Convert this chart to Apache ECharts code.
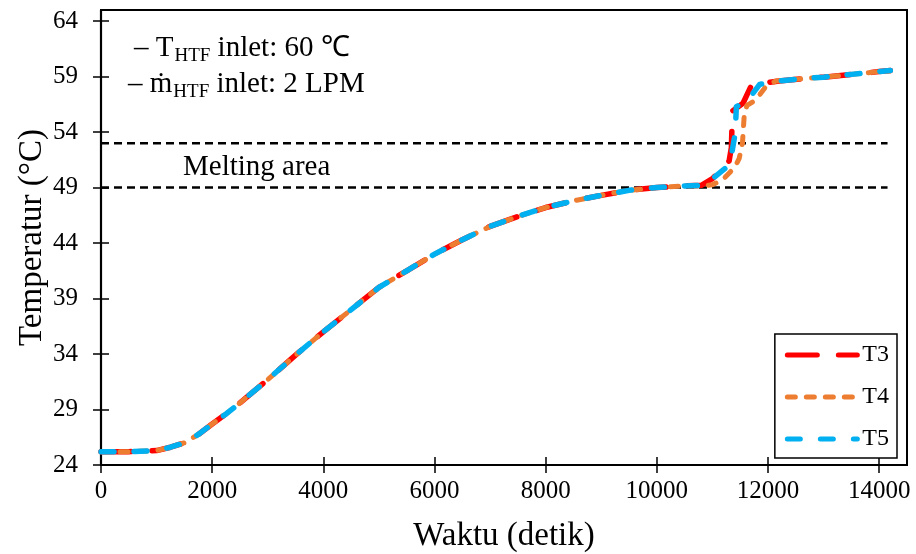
<!DOCTYPE html>
<html>
<head>
<meta charset="utf-8">
<script src="https://cdn.jsdelivr.net/npm/echarts@6/dist/echarts.min.js"></script>
<style>
  html, body { margin: 0; padding: 0; background: #fff; }
  #chart { width: 916px; height: 554px; }
</style>
</head>
<body>
<div id="chart"></div>
<script>
// Temperature history of the PCM thermocouples (°C) against time (s)
const timeBase = [0, 500, 1000, 1250, 1500, 1750, 2000, 2250, 2500, 3000, 3500, 4000, 4500, 5000,
  5500, 6000, 6500, 7000, 7500, 8000, 8500, 9000, 9500, 10000, 10500];
const tempBase = [25.2, 25.2, 25.3, 25.6, 26.0, 26.75, 27.7, 28.6, 29.6, 31.7, 33.9, 36.0, 38.0, 40.0,
  41.5, 43.0, 44.3, 45.5, 46.4, 47.2, 47.8, 48.3, 48.75, 49.0, 49.15];

const t3Time = [10800, 11000, 11300, 11340, 11360, 11550, 11700, 11900, 12200, 12600, 13000, 13500, 14000, 14200];
const t3Temp = [49.2, 49.8, 51.4, 52.6, 55.9, 56.6, 58.2, 58.4, 58.6, 58.8, 58.95, 59.2, 59.45, 59.55];

const t4Time = [10800, 11000, 11180, 11400, 11480, 11540, 11570, 11620, 11780, 11960, 12140, 12600, 13000, 13500, 14000, 14180];
const t4Temp = [49.15, 49.25, 49.7, 50.8, 51.6, 53.0, 55.4, 56.4, 56.9, 58.1, 58.6, 58.8, 58.95, 59.2, 59.45, 59.5];

const t5Time = [10800, 10900, 11270, 11330, 11410, 11430, 11540, 11700, 11850, 12200, 12600, 13000, 13500, 14000, 14200];
const t5Temp = [49.2, 49.4, 50.9, 51.6, 53.9, 56.3, 56.6, 57.3, 58.3, 58.6, 58.8, 58.95, 59.2, 59.45, 59.55];

// melting range boundaries
const meltLower = 49;
const meltUpper = 53;
const meltLineEnd = 14150;

const xTicks = [0, 2000, 4000, 6000, 8000, 10000, 12000, 14000];
const yTicks = [24, 29, 34, 39, 44, 49, 54, 59, 64];

const seriesNames = ['T3', 'T4', 'T5'];

function pairs(ts, vs) { return ts.map((t, i) => [t, vs[i]]); }
const dataT3 = pairs(timeBase.concat(t3Time), tempBase.concat(t3Temp));
const dataT4 = pairs(timeBase.concat(t4Time), tempBase.concat(t4Temp));
const dataT5 = pairs(timeBase.concat(t5Time), tempBase.concat(t5Temp));

const FONT = '"Liberation Serif", "Times New Roman", serif';
const chart = echarts.init(document.getElementById('chart'), null, { renderer: 'canvas' });

const baseX = { type: 'value', min: 0, max: 14500, interval: 2000, gridIndex: 0 };
const baseY = { type: 'value', min: 24, max: 65, interval: 5, gridIndex: 0 };
const plain = v => String(v);

function lineSeries(name, data, color, width, dash) {
  return {
    name, type: 'line', data, symbol: 'none', showSymbol: false,
    smooth: false,
    lineStyle: { color, width, type: dash, cap: 'round', join: 'round' },
    itemStyle: { color },
    animation: false
  };
}
function refLine(value) {
  return {
    type: 'line', symbol: 'none', silent: true, animation: false,
    data: [[0, value], [meltLineEnd, value]],
    lineStyle: { color: '#000', width: 2.5, type: [8, 5] },
    z: 1
  };
}

const tickStyle = { color: '#000', width: 1.5 };
const sub = {
  m: { fontFamily: FONT, fontSize: 29, fill: '#000' },
  s: { fontFamily: FONT, fontSize: 19, fill: '#000', padding: [16, 0, 0, 1] }
};

chart.setOption({
  backgroundColor: '#fff',
  animation: false,
  grid: {
    left: 101, right: 9, top: 10, bottom: 89,
    outerBoundsMode: 'none', containLabel: false,
    show: true, borderColor: '#000', borderWidth: 2, backgroundColor: 'transparent'
  },
  xAxis: [
    Object.assign({}, baseX, {
      name: 'Waktu (detik)', nameLocation: 'middle', nameGap: 55, nameMoveOverlap: false,
      nameTextStyle: { fontFamily: FONT, fontSize: 33, color: '#000' },
      axisLine: { show: true, lineStyle: { color: '#000', width: 2.2 } },
      axisTick: { show: true, length: 8, customValues: xTicks, lineStyle: tickStyle },
      axisLabel: { customValues: xTicks, formatter: plain, margin: 14, fontFamily: FONT, fontSize: 25, color: '#000' },
      splitLine: { show: false }
    }),
    Object.assign({}, baseX, {
      position: 'bottom',
      axisLine: { show: false },
      axisTick: { show: true, inside: true, length: 8, customValues: xTicks, lineStyle: tickStyle },
      axisLabel: { show: false },
      splitLine: { show: false }
    })
  ],
  yAxis: [
    Object.assign({}, baseY, {
      name: 'Temperatur (°C)', nameLocation: 'middle', nameGap: 52, nameRotate: 90, nameMoveOverlap: false,
      nameTextStyle: { fontFamily: FONT, fontSize: 33, color: '#000' },
      axisLine: { show: true, lineStyle: { color: '#000', width: 2.2 } },
      axisTick: { show: true, length: 8, customValues: yTicks, lineStyle: tickStyle },
      axisLabel: { customValues: yTicks, formatter: plain, margin: 23, fontFamily: FONT, fontSize: 25, color: '#000' },
      splitLine: { show: false }
    }),
    Object.assign({}, baseY, {
      position: 'left',
      axisLine: { show: false },
      axisTick: { show: true, inside: true, length: 8, customValues: yTicks, lineStyle: tickStyle },
      axisLabel: { show: false },
      splitLine: { show: false }
    })
  ],
  legend: {
    data: seriesNames,
    orient: 'vertical',
    right: 19, top: 334,
    padding: [9, 8, 7, 10],
    itemWidth: 70, itemHeight: 22, itemGap: 18,
    borderColor: '#000', borderWidth: 1.5, backgroundColor: '#fff',
    textStyle: { fontFamily: FONT, fontSize: 24, color: '#000' },
    itemStyle: { opacity: 0 },
    lineStyle: { width: 5, cap: 'round' }
  },
  graphic: [
    {
      type: 'text', left: 134, top: 34, z: 100,
      style: { text: '– {m|T}{s|HTF}{m| inlet: 60 ℃}', rich: sub, fontFamily: FONT, fontSize: 29, fill: '#000' }
    },
    {
      type: 'text', left: 128, top: 70, z: 100,
      style: { text: '– {m|ṁ}{s|HTF}{m| inlet: 2 LPM}', rich: sub, fontFamily: FONT, fontSize: 29, fill: '#000' }
    },
    {
      type: 'text', left: 183, top: 153, z: 100,
      style: { text: 'Melting area', fontFamily: FONT, fontSize: 29, fill: '#000' }
    }
  ],
  series: [
    refLine(meltUpper),
    refLine(meltLower),
    lineSeries('T3', dataT3, '#FF0000', 5.5, [30, 21]),
    lineSeries('T4', dataT4, '#ED7D31', 5, [8, 11]),
    lineSeries('T5', dataT5, '#00B0F0', 5.5, [13, 20])
  ]
});
</script>
</body>
</html>
